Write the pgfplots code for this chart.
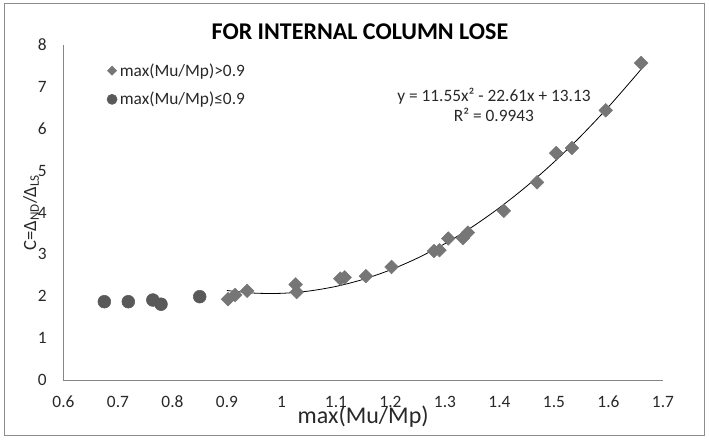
\documentclass[border=0pt]{standalone}
\usepackage{fontspec}
\setmainfont{Carlito}
\usepackage{pgfplots}
\pgfplotsset{compat=1.18}
\definecolor{diam}{RGB}{118,118,118}
\definecolor{circ}{RGB}{89,89,89}
\definecolor{axgray}{RGB}{134,134,134}
\definecolor{framegray}{RGB}{140,140,140}
\definecolor{txt}{RGB}{40,40,40}
\begin{document}
\begin{tikzpicture}[x=1pt,y=1pt]
\useasboundingbox (0,0) rectangle (531.75,329.25);
\draw[framegray, line width=1.2pt] (3.5,2.5) rectangle (528.5,326.5);
\begin{axis}[
  at={(47.6pt,44.25pt)}, anchor=south west,
  scale only axis, width=449.6pt, height=251.25pt,
  xmin=0.6, xmax=1.7, ymin=0, ymax=8,
  axis x line=bottom, axis y line=left,
  axis line style={axgray, line width=0.75pt, -},
  xtick={0.6,0.7,0.8,0.9,1,1.1,1.2,1.3,1.4,1.5,1.6,1.7},
  xticklabels={0.6,0.7,0.8,0.9,1,1.1,1.2,1.3,1.4,1.5,1.6,1.7},
  ytick={0,1,2,3,4,5,6,7,8},
  yticklabels={0,1,2,3,4,5,6,7,8},
  major tick length=0pt,
  tick label style={font=\fontsize{13}{15}\selectfont, text=txt},
  xticklabel style={yshift=-8.5pt},
  yticklabel style={xshift=-9pt},
  title={FOR INTERNAL COLUMN LOSE},
  title style={at={(axis description cs:0.4946,1.0149)}, anchor=center, font=\bfseries\fontsize{18}{21}\selectfont, text=black},
  xlabel={max(Mu/Mp)},
  xlabel style={at={(axis description cs:0.5,-0.11)}, anchor=center, font=\fontsize{18}{21}\selectfont, text=txt},
  ylabel={C=Δ\textsubscript{ND}/Δ\textsubscript{LS}},
  ylabel style={at={(axis description cs:-0.054,0.5)}, anchor=center, rotate=0, font=\fontsize{14}{16}\selectfont, text=txt},
  legend style={at={(axis description cs:0.0655,0.962)}, anchor=north west, draw=none, fill=none, font=\fontsize{13}{15}\selectfont, text=txt, row sep=6.5pt},
  legend cell align=left,
  legend image code/.code={\draw[mark repeat=2,mark phase=2,#1] plot coordinates {(0cm,0cm)(0.08cm,0cm)(0.3cm,0cm)};},
  clip=false,
]
\addplot[only marks, mark=square*, mark size=3.6pt, mark options={rotate=45, fill=diam, draw=diam}, color=diam, legend image post style={mark size=2.4pt}] coordinates {
(0.902,1.93) (0.915,2.03) (0.937,2.13) (1.026,2.28) (1.028,2.10)
(1.108,2.42) (1.116,2.45) (1.155,2.48) (1.202,2.70) (1.280,3.08)
(1.290,3.10) (1.306,3.38) (1.333,3.39) (1.342,3.52) (1.408,4.04)
(1.469,4.72) (1.504,5.42) (1.533,5.54) (1.595,6.44) (1.660,7.57)
};
\addlegendentry{max(Mu/Mp)>0.9}
\addplot[only marks, mark=*, mark size=4.8pt, mark options={fill=circ, draw=circ}, color=circ, legend image post style={mark size=3.8pt}] coordinates {
(0.675,1.87) (0.719,1.87) (0.764,1.91) (0.779,1.81) (0.850,1.99)
};
\addlegendentry{max(Mu/Mp)≤0.9}
\addplot[forget plot, smooth, black, line width=0.6pt, no marks] coordinates {
(0.90,2.137) (0.95,2.075) (1.00,2.070) (1.05,2.124) (1.10,2.235)
(1.15,2.403) (1.20,2.630) (1.25,2.914) (1.30,3.257) (1.35,3.656)
(1.40,4.114) (1.45,4.629) (1.50,5.203) (1.55,5.833) (1.60,6.522)
(1.65,7.268) (1.66,7.425)
};
\node[align=center, font=\fontsize{13}{15}\selectfont, text=txt] at (axis cs:1.39,6.56) {y = 11.55x² - 22.61x + 13.13\\R² = 0.9943};
\end{axis}
\end{tikzpicture}
\end{document}
